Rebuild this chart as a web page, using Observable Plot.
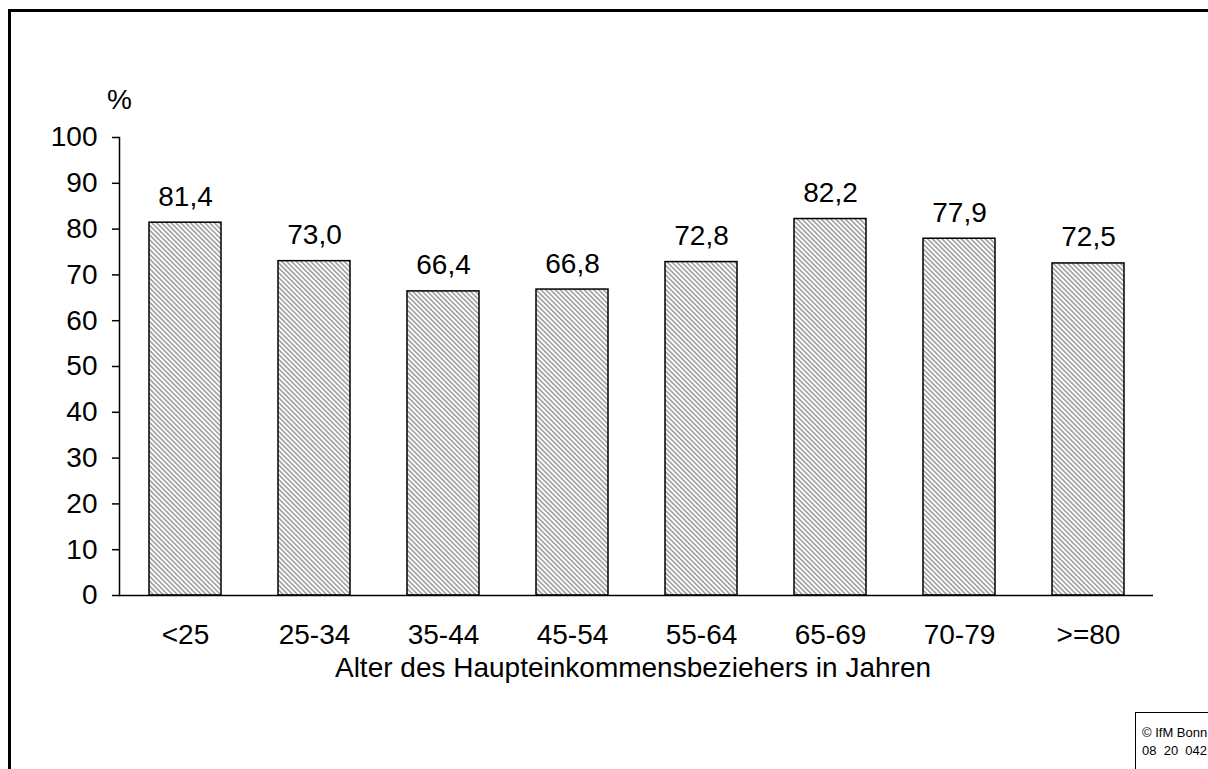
<!DOCTYPE html>
<html>
<head>
<meta charset="utf-8">
<script src="https://cdn.jsdelivr.net/npm/d3@7"></script>
<script src="https://cdn.jsdelivr.net/npm/@observablehq/plot@0.6"></script>
<style>
  html, body { margin: 0; padding: 0; background: #fff; overflow: hidden; }
  body { width: 1208px; height: 769px; position: relative; font-family: "Liberation Sans", Arial, sans-serif; }
  #frame { position: absolute; left: 8px; top: 9px; width: 1300px; height: 900px; border: 3px solid #000; box-sizing: border-box; }
  #chart { position: absolute; left: 0; top: 0; }
  .lbl { position: absolute; color: #000; font-size: 28px; line-height: 28px; white-space: nowrap; }
  #copy { position: absolute; left: 1135px; top: 712px; width: 100px; height: 80px; border: 1.5px solid #000; box-sizing: border-box; font-size: 13px; line-height: 18px; padding: 11px 0 0 6px; white-space: nowrap; }
</style>
</head>
<body>
<div id="frame"></div>
<div id="chart"></div>
<div class="lbl" style="left:107px; top:86px;">%</div>
<div class="lbl" id="xtitle" style="left:633px; top:654px; transform:translateX(-50%);">Alter des Haupteinkommensbeziehers in Jahren</div>
<div id="copy">© IfM Bonn<br>08&nbsp; 20&nbsp; 042</div>
<script>
const categories = ["<25", "25-34", "35-44", "45-54", "55-64", "65-69", "70-79", ">=80"];
const values = [81.4, 73.0, 66.4, 66.8, 72.8, 82.2, 77.9, 72.5];
const yTicks = [0, 10, 20, 30, 40, 50, 60, 70, 80, 90, 100];

const data = categories.map((c, i) => ({cat: c, v: values[i]}));
const fmt = v => v.toFixed(1).replace(".", ",");

const chart = Plot.plot({
  width: 1208,
  height: 769,
  marginLeft: 119,
  marginRight: 55,
  marginTop: 137,
  marginBottom: 174,
  style: {fontFamily: "'Liberation Sans', Arial, sans-serif", fontSize: "28px", color: "#000", background: "transparent"},
  x: {domain: categories, paddingInner: 0.443, paddingOuter: 0.22, label: null},
  y: {domain: [0, 100], label: null},
  marks: [
    Plot.barY(data, {x: "cat", y: "v", fill: "url(#hatch)", stroke: "#000", strokeWidth: 1.5}),
    Plot.text(data, {x: "cat", y: "v", text: d => fmt(d.v), dy: -17, lineAnchor: "bottom", fontSize: 28, fill: "#000"}),
    Plot.axisY({ticks: yTicks, tickSize: 7, tickPadding: 15, tickFormat: d => String(d), label: null, stroke: "#000", strokeWidth: 1.5, fontSize: 28}),
    Plot.axisX({tickSize: 0, tickPadding: 29, label: null, fontSize: 28}),
    Plot.frame({anchor: "left", stroke: "#000", strokeWidth: 1.5}),
    Plot.ruleY([0], {stroke: "#000", strokeWidth: 1.5})
  ]
});

chart.insertAdjacentHTML("afterbegin",
  '<defs><pattern id="hatch" patternUnits="userSpaceOnUse" width="3.4" height="10" patternTransform="rotate(-45)">' +
  '<rect width="3.4" height="10" fill="#ffffff"/>' +
  '<line x1="0.8" y1="0" x2="0.8" y2="10" stroke="#999999" stroke-width="1.5"/></pattern></defs>');

document.getElementById("chart").appendChild(chart);
</script>
</body>
</html>
